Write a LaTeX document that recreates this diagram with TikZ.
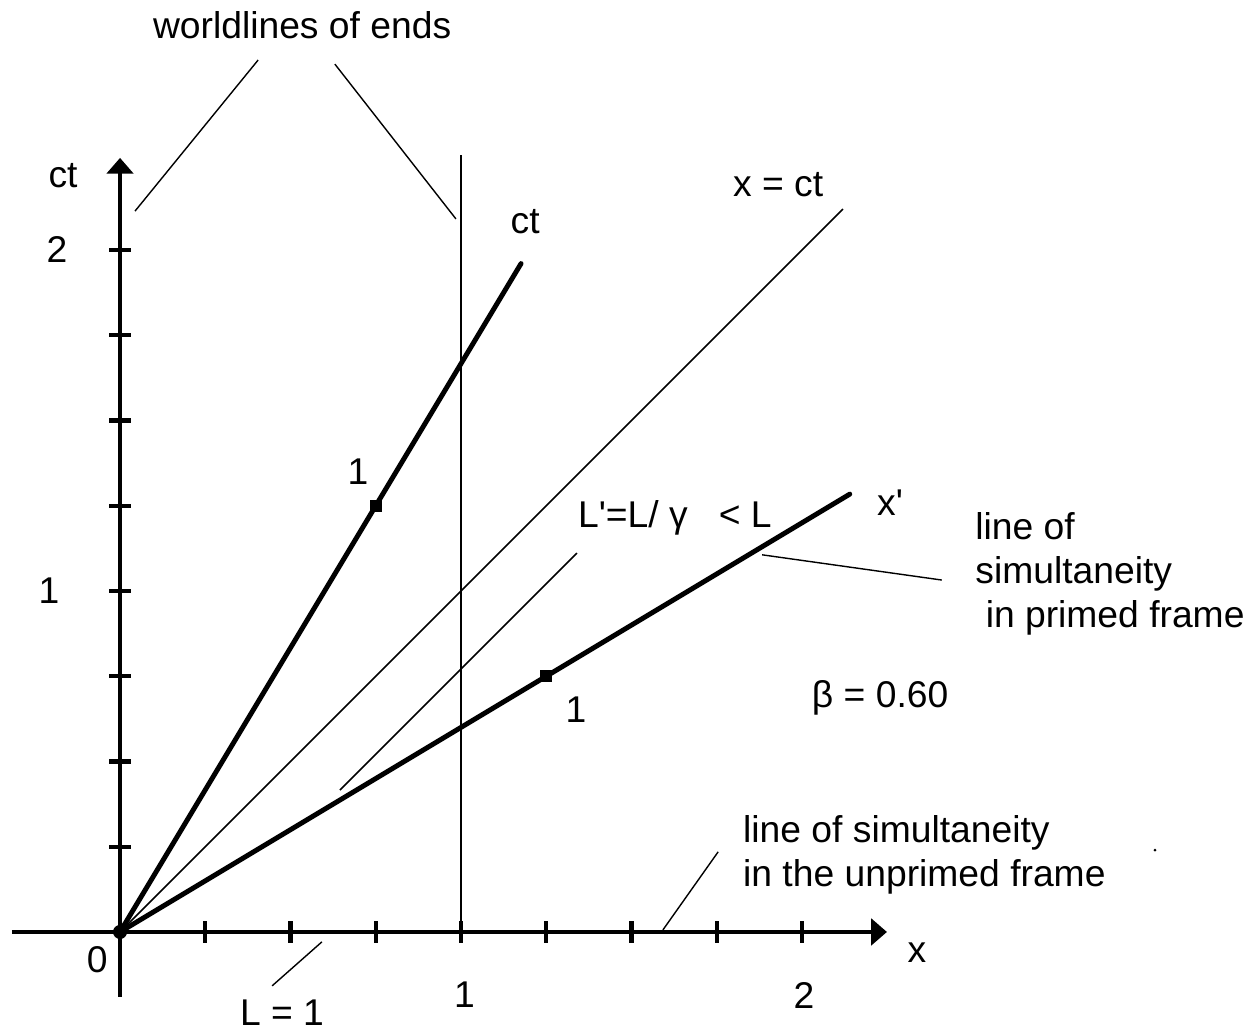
\documentclass[tikz,border=0pt]{standalone}
\usepackage{fontspec}
\setmainfont{Liberation Sans}
\usetikzlibrary{arrows.meta}

\tikzset{
  axis/.style={line width=1.3pt, -{Triangle[width=7.5pt,length=4.5pt]}},
  primed/.style={line width=1.4pt, line cap=round},
  thin line/.style={line width=0.45pt},
  leader/.style={line width=0.4pt},
  tickmark/.style={line width=1.2pt},
  calib/.style={fill, rectangle, minimum size=3.4pt, inner sep=0pt},
  lbl/.style={font=\fontsize{10.6}{12.5}\selectfont, inner sep=1pt},
}

\begin{document}
\begin{tikzpicture}[x=3.41cm, y=3.41cm]
\useasboundingbox (-0.352,-0.293) rectangle (3.299,2.733);

% axes
\coordinate (O) at (0,0);
\coordinate (xL) at (-0.317,0); \coordinate (xR) at (2.249,0);
\coordinate (yB) at (0,-0.19);  \coordinate (yT) at (0,2.27);
\draw[axis] (xL) -- (xR);
\draw[axis] (yB) -- (yT);
\foreach \t in {0.25,0.5,...,2.0} {
  \draw[tickmark] (\t,-0.032) -- (\t,0.032);
  \draw[tickmark] (-0.032,\t) -- (0.032,\t);
}
\fill (O) circle (2pt);

% light line, worldline of far end, primed axes
\coordinate (lc) at (2.12,2.12);
\coordinate (w1b) at (1,0); \coordinate (w1t) at (1,2.279);
\coordinate (ctp) at (1.176,1.96);
\coordinate (xp) at (2.14,1.284);
\draw[thin line] (O) -- (lc);
\draw[thin line] (w1b) -- (w1t);
\draw[primed] (O) -- (ctp);
\draw[primed] (O) -- (xp);
\coordinate (la) at (0.645,0.416); \coordinate (lb) at (1.340,1.111);
\draw[thin line] (la) -- (lb);
\node[calib] (c1) at (0.75,1.25) {};
\node[calib] (c2) at (1.25,0.75) {};

% axis labels
\node[lbl] (ctlab) at (-0.167,2.217) {ct};
\node[lbl] (y2) at (-0.185,2.0) {2};
\node[lbl] (y1) at (-0.208,1.0) {1};
\node[lbl] (zero) at (-0.067,-0.082) {0};
\node[lbl] (x1) at (1.01,-0.185) {1};
\node[lbl] (x2) at (2.006,-0.185) {2};
\node[lbl] (xlab) at (2.337,-0.062) {x};
\node[lbl] (ctplab) at (1.188,2.082) {ct};
\node[lbl] (xplab) at (2.258,1.258) {x\textquotesingle};
\node[lbl] (lclab) at (1.93,2.193) {x = ct};
\node[lbl] (c1lab) at (0.698,1.349) {1};
\node[lbl] (c2lab) at (1.337,0.651) {1};
\node[lbl] (contr) at (1.627,1.214) {L\textquotesingle=L/ γ \ \ < L};
\node[lbl] (beta) at (2.229,0.686) {β = 0.60};

% notes and leaders
\node[lbl] (ends) at (0.534,2.660) {worldlines of ends};
\coordinate (e1a) at (0.405,2.557); \coordinate (e1b) at (0.044,2.114);
\coordinate (e2a) at (0.630,2.545); \coordinate (e2b) at (0.985,2.091);
\draw[leader] (e1a) -- (e1b);
\draw[leader] (e2a) -- (e2b);

\node[lbl] (len) at (0.475,-0.238) {L = 1};
\coordinate (lena) at (0.592,-0.029); \coordinate (lenb) at (0.446,-0.158);
\draw[leader] (lena) -- (lenb);

\node[lbl, anchor=west, align=left] (unprimed) at (1.815,0.226)
  {line of simultaneity\\in the unprimed frame};
\coordinate (ua) at (1.592,0.006); \coordinate (ub) at (1.754,0.235);
\draw[leader] (ua) -- (ub);

\node[lbl, anchor=west, align=left] (primedf) at (2.496,1.051)
  {line of\\simultaneity\\\ in primed frame};
\coordinate (pa) at (1.883,1.106); \coordinate (pb) at (2.410,1.032);
\draw[leader] (pa) -- (pb);

\fill (3.035,0.240) circle (0.45pt);
\end{tikzpicture}
\end{document}
